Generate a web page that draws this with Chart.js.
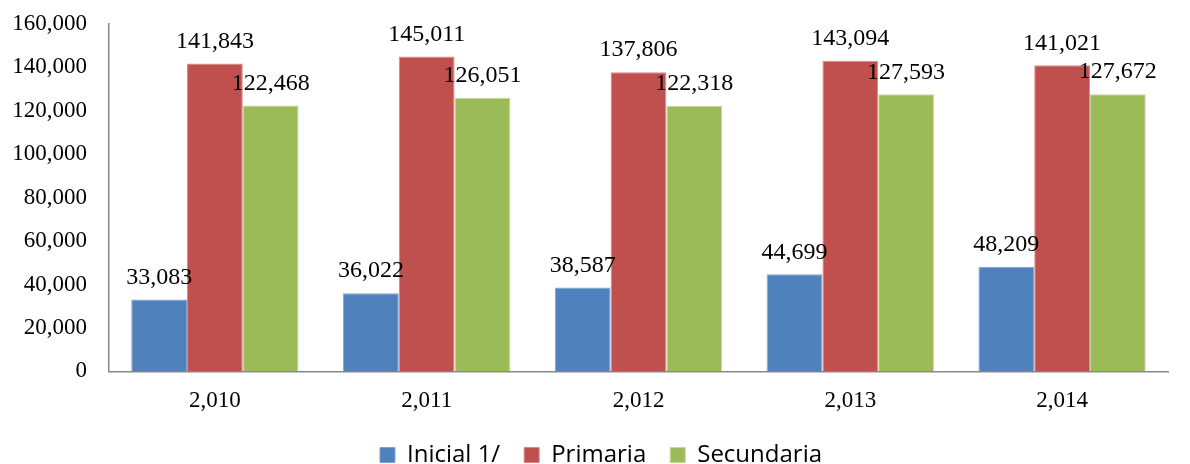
<!DOCTYPE html>
<html>
<head>
<meta charset="utf-8">
<script src="https://cdn.jsdelivr.net/npm/chart.js@4"></script>
<style>
html, body { margin: 0; padding: 0; background: #fff; }
#wrap { width: 1190px; height: 464px; }
</style>
</head>
<body>
<div id="wrap"><canvas id="grafico" width="1190" height="464"></canvas></div>
<script>
let anos = ["2,010", "2,011", "2,012", "2,013", "2,014"]
let inicial = [33083, 36022, 38587, 44699, 48209]
let primaria = [141843, 145011, 137806, 143094, 141021]
let secundaria = [122468, 126051, 122318, 127593, 127672]
let ticksY = [0, 20000, 40000, 60000, 80000, 100000, 120000, 140000, 160000]

let serif = "'Liberation Serif', 'Times New Roman', serif"

// etiquetas sobre las barras
const etiquetas = {
  id: 'etiquetas',
  afterInit(chart) {
    // leyenda más compacta: menos espacio sobre ella
    const leyenda = chart.legend;
    const fitOrig = leyenda.fit;
    const drawOrig = leyenda._draw;
    leyenda.fit = function () {
      fitOrig.call(this);
      this.height -= 25;
    };
    leyenda._draw = function () {
      this.ctx.save();
      this.ctx.translate(17, -12);
      drawOrig.call(this);
      this.ctx.restore();
    };
  },
  afterDatasetsDraw(chart) {
    const ctx = chart.ctx;
    ctx.save();
    ctx.font = "24px " + serif;
    ctx.fillStyle = "#000";
    ctx.textAlign = "center";
    ctx.textBaseline = "bottom";
    chart.data.datasets.forEach((ds, i) => {
      chart.getDatasetMeta(i).data.forEach((bar, j) => {
        ctx.fillText(ds.data[j].toLocaleString('en-US'), bar.x, bar.y - 10);
      });
    });
    ctx.restore();
  }
};

new Chart(document.getElementById("grafico"), {
  type: 'bar',
  data: {
    labels: anos,
    datasets: [
      { label: "Inicial 1/", data: inicial, backgroundColor: "#4F81BD", borderColor: "#7FA3D3", borderWidth: 1 },
      { label: "Primaria", data: primaria, backgroundColor: "#C0504D", borderColor: "#D88A88", borderWidth: 1 },
      { label: "Secundaria", data: secundaria, backgroundColor: "#9BBB59", borderColor: "#C3D89A", borderWidth: 1 }
    ]
  },
  options: {
    responsive: false,
    animation: false,
    categoryPercentage: 0.79,
    barPercentage: 1.0,
    layout: { padding: { top: 24, right: 22, left: 0, bottom: 0 } },
    plugins: {
      legend: {
        position: 'bottom',
        labels: {
          boxWidth: 15,
          boxHeight: 15,
          padding: 24,
          color: "#000",
          font: { family: "'Open Sans', 'Liberation Sans', sans-serif", size: 24 }
        }
      },
      tooltip: { enabled: false }
    },
    scales: {
      x: {
        grid: { display: false, drawTicks: false },
        border: { display: true, color: "#888", width: 1.5 },
        ticks: { color: "#000", padding: 16, font: { family: serif, size: 23 } },
        afterFit: (s) => { s.paddingLeft = 0; s.paddingRight = 0; }
      },
      y: {
        min: 0,
        max: 160000,
        afterBuildTicks: (axis) => { axis.ticks = ticksY.map(v => ({ value: v })); },
        afterFit: (s) => { s.width = 109; s.paddingTop = 0; },
        grid: { display: false, drawTicks: false },
        border: { display: true, color: "#888", width: 1.5 },
        ticks: {
          color: "#000",
          padding: 22,
          font: { family: serif, size: 23 },
          callback: (v) => v.toLocaleString('en-US')
        }
      }
    }
  },
  plugins: [etiquetas]
});
</script>
</body>
</html>
